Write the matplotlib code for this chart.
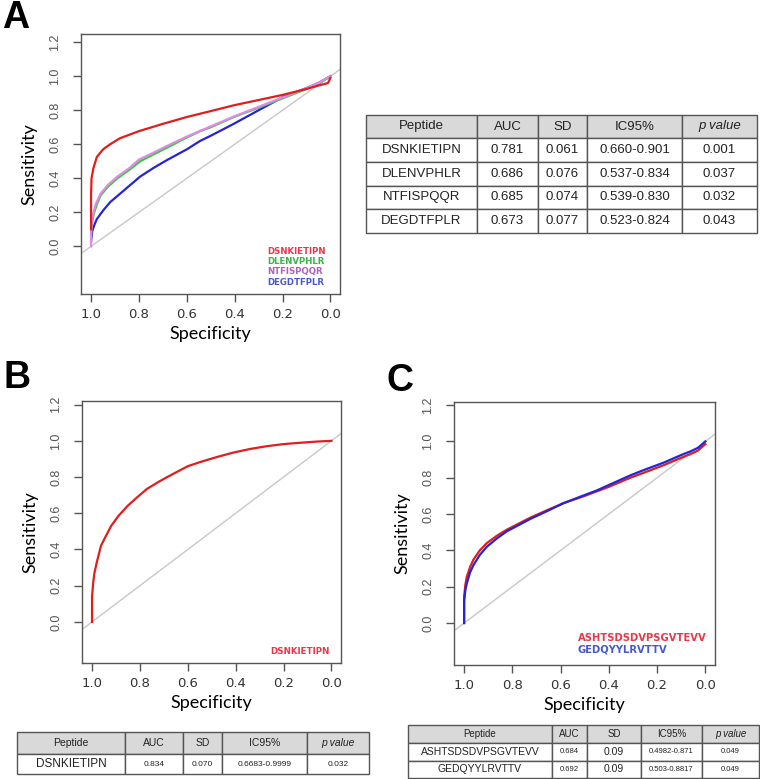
import matplotlib
matplotlib.use("Agg")
import matplotlib.pyplot as plt

# ---------------- data ----------------
A_red_spec = [1.0, 1.0, 0.998, 0.99, 0.976, 0.95, 0.92, 0.88, 0.8, 0.7, 0.6, 0.5, 0.4, 0.3, 0.2, 0.1, 0.05, 0.01, 0.0]
A_red_sens = [0.10, 0.30, 0.40, 0.46, 0.525, 0.57, 0.60, 0.635, 0.677, 0.72, 0.76, 0.795, 0.83, 0.86, 0.89, 0.925, 0.945, 0.96, 0.99]

A_green_spec = [1.0, 0.998, 0.99, 0.975, 0.96, 0.93, 0.89, 0.84, 0.795, 0.74, 0.683, 0.6, 0.544, 0.5, 0.404, 0.3, 0.2, 0.1, 0.05, 0.0]
A_green_sens = [0.06, 0.12, 0.185, 0.25, 0.30, 0.35, 0.40, 0.45, 0.50, 0.54, 0.58, 0.64, 0.677, 0.70, 0.76, 0.815, 0.87, 0.925, 0.955, 1.0]

A_violet_spec = [1.0, 1.0, 0.995, 0.98, 0.96, 0.93, 0.89, 0.84, 0.8, 0.74, 0.683, 0.6, 0.5, 0.4, 0.3, 0.2, 0.1, 0.05, 0.0]
A_violet_sens = [0.0, 0.08, 0.17, 0.25, 0.31, 0.36, 0.41, 0.46, 0.51, 0.55, 0.59, 0.645, 0.705, 0.765, 0.82, 0.875, 0.93, 0.96, 1.0]

A_blue_spec = [1.0, 0.995, 0.985, 0.976, 0.95, 0.92, 0.87, 0.795, 0.74, 0.683, 0.6, 0.544, 0.5, 0.404, 0.3, 0.195, 0.1, 0.05, 0.0]
A_blue_sens = [0.03, 0.09, 0.13, 0.16, 0.21, 0.26, 0.32, 0.41, 0.46, 0.507, 0.57, 0.62, 0.65, 0.72, 0.80, 0.88, 0.93, 0.96, 1.0]

B_red_spec = [1.0, 1.0, 0.995, 0.99, 0.98, 0.963, 0.94, 0.92, 0.89, 0.852, 0.81, 0.77, 0.72, 0.686, 0.6, 0.548, 0.48, 0.41, 0.34, 0.272, 0.2, 0.134, 0.06, 0.0]
B_red_sens = [0.0, 0.14, 0.22, 0.27, 0.33, 0.42, 0.48, 0.53, 0.585, 0.64, 0.69, 0.735, 0.775, 0.80, 0.86, 0.883, 0.91, 0.935, 0.955, 0.97, 0.982, 0.989, 0.996, 1.0]

C_red_spec = [1.0, 1.0, 0.995, 0.989, 0.975, 0.961, 0.935, 0.906, 0.865, 0.823, 0.726, 0.65, 0.588, 0.5, 0.45, 0.4, 0.311, 0.25, 0.173, 0.1, 0.062, 0.03, 0.0]
C_red_sens = [0.0, 0.144, 0.21, 0.255, 0.31, 0.35, 0.40, 0.44, 0.48, 0.514, 0.58, 0.625, 0.66, 0.70, 0.725, 0.75, 0.80, 0.83, 0.869, 0.91, 0.93, 0.95, 0.985]

C_blue_spec = [1.0, 1.0, 0.995, 0.989, 0.975, 0.961, 0.935, 0.906, 0.865, 0.823, 0.726, 0.65, 0.588, 0.5, 0.45, 0.4, 0.311, 0.25, 0.173, 0.1, 0.062, 0.03, 0.0]
C_blue_sens = [0.0, 0.12, 0.18, 0.218, 0.28, 0.32, 0.375, 0.42, 0.465, 0.505, 0.573, 0.62, 0.66, 0.705, 0.73, 0.76, 0.813, 0.845, 0.883, 0.925, 0.945, 0.965, 1.0]

A_peptides = ["DSNKIETIPN", "DLENVPHLR", "NTFISPQQR", "DEGDTFPLR"]
B_peptides = ["DSNKIETIPN"]
C_peptides = ["ASHTSDSDVPSGVTEVV", "GEDQYYLRVTTV"]

table_cols = ["Peptide", "AUC", "SD", "IC95%", "p value"]
A_auc = ["0.781", "0.686", "0.685", "0.673"]
A_sd = ["0.061", "0.076", "0.074", "0.077"]
A_ic = ["0.660-0.901", "0.537-0.834", "0.539-0.830", "0.523-0.824"]
A_p = ["0.001", "0.037", "0.032", "0.043"]
B_auc = ["0.834"]
B_sd = ["0.070"]
B_ic = ["0.6683-0.9999"]
B_p = ["0.032"]
C_auc = ["0.684", "0.692"]
C_sd = ["0.09", "0.09"]
C_ic = ["0.4982-0.871", "0.503-0.8817"]
C_p = ["0.049", "0.049"]

spec_ticks = [1.0, 0.8, 0.6, 0.4, 0.2, 0.0]
sens_ticks = [0.0, 0.2, 0.4, 0.6, 0.8, 1.0, 1.2]

# ---------------- styles ----------------
LINE_RED = "#e01e1e"
LINE_GREEN = "#2fcc3a"
LINE_VIOLET = "#e08ae6"
LINE_BLUE = "#2424d8"
TXT_RED = "#e8384a"
TXT_GREEN = "#3ab54a"
TXT_VIOLET = "#b060c0"
TXT_BLUE = "#4a58d0"
SPINE = "#555555"
W, H = 760, 779

fig = plt.figure(figsize=(W / 100, H / 100), dpi=100)
fig.patch.set_facecolor("white")


def px_axes(x0, y0, x1, y1):
    return fig.add_axes([x0 / W, 1 - y1 / H, (x1 - x0) / W, (y1 - y0) / H])


def roc_axes(box, ylim):
    ax = px_axes(*box)
    ax.set_xlim(1.042, -0.04)
    ax.set_ylim(*ylim)
    ax.plot([1.1, -0.1], [-0.1, 1.1], color="#c8c8c8", lw=1.0, zorder=1)
    for s in ax.spines.values():
        s.set_color(SPINE)
        s.set_linewidth(1.0)
    ax.set_xticks(spec_ticks)
    ax.set_xticklabels([f"{v:.1f}" for v in spec_ticks], fontsize=9.5,
                       color="#333333", family="DejaVu Sans")
    ax.set_yticks(sens_ticks)
    ax.set_yticklabels([f"{v:.1f}" for v in sens_ticks], fontsize=9,
                       color="#555555", rotation=90, va="center",
                       family=["Liberation Sans Narrow", "Liberation Sans"])
    ax.tick_params(axis="x", length=6, width=1, color=SPINE, pad=4)
    ax.tick_params(axis="y", length=6, width=1, color=SPINE, pad=8)
    ax.set_xlabel("Specificity", fontsize=13, family="Lato", va="center")
    ax.set_ylabel("Sensitivity", fontsize=13, family="Lato", va="center")
    hgt = box[3] - box[1]
    wid = box[2] - box[0]
    ax.xaxis.set_label_coords(0.5, -40 / hgt)
    ax.yaxis.set_label_coords(-52 / wid, 0.5)
    return ax


def legend_text(x_px, y_px, text, color, size):
    fig.text(x_px / W, 1 - y_px / H, text, color=color, fontsize=size,
             fontweight="bold", family="DejaVu Sans", ha="left", va="center")


def make_table(box, names, auc, sd, ic, p, colw, fs_head, fs_name, fs_auc, fs_sd, fs_ic, fs_p, head_frac):
    ax = px_axes(*box)
    ax.axis("off")
    rows = [[n, a, s, i, q] for n, a, s, i, q in zip(names, auc, sd, ic, p)]
    tab = ax.table(cellText=rows, colLabels=table_cols, cellLoc="center",
                   colWidths=colw, bbox=[0, 0, 1, 1])
    tab.auto_set_font_size(False)
    nrows = len(rows)
    body = (1 - head_frac) / nrows
    sizes = [fs_name, fs_auc, fs_sd, fs_ic, fs_p]
    for (r, c), cell in tab.get_celld().items():
        cell.set_edgecolor("#555555")
        cell.set_linewidth(1.0)
        cell.get_text().set_family("Liberation Sans")
        cell.get_text().set_color("#222222")
        if r == 0:
            cell.set_facecolor("#d9d9d9")
            cell.get_text().set_fontsize(fs_head)
            cell.set_height(head_frac)
            if c == 4:
                cell.get_text().set_fontstyle("italic")
        else:
            cell.set_facecolor("white")
            cell.get_text().set_fontsize(sizes[c])
            cell.set_height(body)
    return ax


# ---------------- Panel A ----------------
boxA = (81, 34, 340, 294)
axA = roc_axes(boxA, (-0.28, 1.248))
axA.plot(A_red_spec, A_red_sens, color=LINE_RED, lw=1.6, zorder=5)
axA.plot(A_blue_spec, A_blue_sens, color=LINE_BLUE, lw=1.6, zorder=3)
axA.plot(A_green_spec, A_green_sens, color=LINE_GREEN, lw=1.6, zorder=4)
axA.plot(A_violet_spec, A_violet_sens, color=LINE_VIOLET, lw=1.6, zorder=4)
for y, t, col in zip([251.5, 261.7, 271.9, 282.1], A_peptides, [TXT_RED, TXT_GREEN, TXT_VIOLET, TXT_BLUE]):
    legend_text(267, y, t, col, 6.2)

# ---------------- Panel B ----------------
boxB = (82, 401, 341, 663)
axB = roc_axes(boxB, (-0.227, 1.22))
axB.plot(B_red_spec, B_red_sens, color=LINE_RED, lw=1.6, zorder=5)
legend_text(270, 652, B_peptides[0], TXT_RED, 6.3)

# ---------------- Panel C ----------------
boxC = (454, 402, 715, 665)
axC = roc_axes(boxC, (-0.231, 1.217))
axC.plot(C_red_spec, C_red_sens, color=LINE_RED, lw=1.6, zorder=4)
axC.plot(C_blue_spec, C_blue_sens, color=LINE_BLUE, lw=1.6, zorder=5)
legend_text(578, 638, C_peptides[0], TXT_RED, 7.2)
legend_text(578, 650, C_peptides[1], TXT_BLUE, 7.2)

# ---------------- Panel letters ----------------
for lx, ly, letter in [(2, 18, "A"), (3, 378, "B"), (386, 381, "C")]:
    fig.text(lx / W, 1 - ly / H, letter, fontsize=27, fontweight="bold",
             family="Liberation Sans", ha="left", va="center")

# ---------------- Tables ----------------
def widths(edges):
    tot = edges[-1] - edges[0]
    return [(edges[i + 1] - edges[i]) / tot for i in range(len(edges) - 1)]

edgesA = [366, 477, 538, 587, 682, 757]
make_table((366, 115, 757, 233), A_peptides, A_auc, A_sd, A_ic, A_p, widths(edgesA),
           9.5, 9.5, 9.5, 9.5, 9.5, 9.5, 23 / 118)

edgesB = [17, 125, 183, 222, 307, 369]
make_table((17, 732, 369, 774), B_peptides, B_auc, B_sd, B_ic, B_p, widths(edgesB),
           7.5, 8.5, 6, 6, 6, 6, 22 / 42)

edgesC = [408, 552, 587, 641, 702, 759]
make_table((408, 725, 759, 778), C_peptides, C_auc, C_sd, C_ic, C_p, widths(edgesC),
           7, 7.5, 5.5, 7.5, 5.5, 5.5, 18 / 53)

fig.savefig("out.png", dpi=100, facecolor="white")
